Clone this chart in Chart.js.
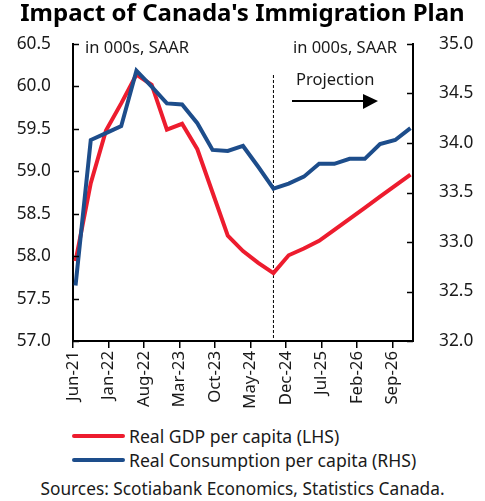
<!DOCTYPE html>
<html>
<head>
<meta charset="utf-8">
<script src="https://cdn.jsdelivr.net/npm/chart.js@4"></script>
<style>
body{margin:0;background:#fff;font-family:"Noto Sans",sans-serif;color:#1a1a1a;}
#page{position:relative;width:485px;height:501px;overflow:hidden;}
#wrap{position:absolute;left:0;top:0;width:485px;height:420px;}
.item{position:absolute;left:72px;height:20px;font-size:17.6px;line-height:20px;}
.item span{position:absolute;left:0;top:8px;width:53px;height:4px;border-radius:2px;}
.item b{position:absolute;left:57px;top:0;font-weight:normal;white-space:nowrap;}
#src{position:absolute;left:0;width:485px;top:479px;text-align:center;font-size:17.3px;line-height:20px;}
</style>
</head>
<body>
<div id="page">
  <div id="wrap"><canvas id="chart"></canvas></div>
  <div class="item" style="top:426px"><span style="background:#ed1c2e"></span><b>Real GDP per capita (LHS)</b></div>
  <div class="item" style="top:450px"><span style="background:#1d4d8b"></span><b>Real Consumption per capita (RHS)</b></div>
  <div id="src">Sources: Scotiabank Economics, Statistics Canada.</div>
</div>
<script>
// quarterly data, thousands of dollars, SAAR
const quarters = ['Jun-21','Sep-21','Dec-21','Mar-22','Jun-22','Sep-22','Dec-22','Mar-23','Jun-23','Sep-23','Dec-23','Mar-24',
                  'Jun-24','Sep-24','Dec-24','Mar-25','Jun-25','Sep-25','Dec-25','Mar-26','Jun-26','Sep-26','Dec-26'];
const gdpPerCapita = [57.94,58.86,59.48,59.80,60.14,60.02,59.49,59.56,59.26,58.75,58.24,58.06,
                      57.92,57.80,58.01,58.09,58.18,58.31,58.44,58.57,58.70,58.83,58.96];
const consumptionPerCapita = [32.56,34.03,34.10,34.17,34.73,34.57,34.40,34.39,34.20,33.93,33.92,33.97,
                              33.76,33.54,33.59,33.66,33.79,33.79,33.84,33.84,33.99,34.03,34.15];
const tickLabels = ['Jun-21','Jan-22','Aug-22','Mar-23','Oct-23','May-24','Dec-24','Jul-25','Feb-26','Sep-26'];
const projectionStart = 'Sep-24';

const MONTHS = ['Jan','Feb','Mar','Apr','May','Jun','Jul','Aug','Sep','Oct','Nov','Dec'];
function absMonth(label){
    const [m, y] = label.split('-');
    return (2000 + Number(y)) * 12 + MONTHS.indexOf(m);
}
const origin = absMonth(tickLabels[0]);
function monthIndex(label){ return absMonth(label) - origin; }
// points sit in the middle of their month
function toPoints(values){ return values.map((v, i) => ({x: monthIndex(quarters[i]) + 0.5, y: v})); }

Chart.defaults.font.family = '"Noto Sans", sans-serif';
Chart.defaults.color = '#1a1a1a';

const extras = {
    id: 'extras',
    beforeDatasetsDraw(chart){
        const {ctx, chartArea, scales} = chart;
        const x = scales.x.getPixelForValue(monthIndex(projectionStart) + 0.5);
        ctx.save();
        ctx.strokeStyle = '#000';
        ctx.lineWidth = 1;
        ctx.setLineDash([3, 2]);
        ctx.beginPath();
        ctx.moveTo(x, chartArea.top + 31);
        ctx.lineTo(x, chartArea.bottom);
        ctx.stroke();
        ctx.restore();
    },
    afterDraw(chart){
        const {ctx, chartArea, scales} = chart;
        ctx.save();
        // inward ticks on both value axes
        ctx.strokeStyle = '#000';
        ctx.lineWidth = 1.5;
        ['y', 'y1'].forEach(id => {
            const s = scales[id];
            const edge = id === 'y' ? chartArea.left : chartArea.right;
            const dir = id === 'y' ? 1 : -1;
            s.ticks.forEach(t => {
                const py = Math.round(s.getPixelForValue(t.value)) + 0.5;
                ctx.beginPath();
                ctx.moveTo(edge, py);
                ctx.lineTo(edge + dir * 6, py);
                ctx.stroke();
            });
        });
        ctx.fillStyle = '#1a1a1a';
        ctx.font = '16.5px "Noto Sans", sans-serif';
        ctx.textBaseline = 'alphabetic';
        ctx.textAlign = 'left';
        ctx.fillText('in 000s, SAAR', chartArea.left + 12, 53);
        ctx.textAlign = 'right';
        ctx.fillText('in 000s, SAAR', chartArea.right - 16, 53);
        ctx.textAlign = 'left';
        ctx.fillText('Projection', 296, 85);
        // arrow
        ctx.strokeStyle = '#000';
        ctx.lineWidth = 2;
        ctx.beginPath();
        ctx.moveTo(292, 101);
        ctx.lineTo(364, 101);
        ctx.stroke();
        ctx.fillStyle = '#000';
        ctx.beginPath();
        ctx.moveTo(363, 94);
        ctx.lineTo(378, 101);
        ctx.lineTo(363, 109);
        ctx.closePath();
        ctx.fill();
        ctx.restore();
    }
};

new Chart(document.getElementById('chart'), {
    type: 'line',
    data: {
        datasets: [{
            label: 'Real GDP per capita (LHS)',
            data: toPoints(gdpPerCapita),
            borderColor: '#ed1c2e',
            backgroundColor: '#ed1c2e',
            borderWidth: 4,
            pointRadius: 0,
            yAxisID: 'y',
            order: 1
        }, {
            label: 'Real Consumption per capita (RHS)',
            data: toPoints(consumptionPerCapita),
            borderColor: '#1d4d8b',
            backgroundColor: '#1d4d8b',
            borderWidth: 4,
            pointRadius: 0,
            yAxisID: 'y1',
            order: 0
        }]
    },
    options: {
        responsive: true,
        maintainAspectRatio: false,
        animation: false,
        layout: {padding: {top: 0, right: 0, bottom: 0, left: 0}},
        plugins: {
            legend: {display: false},
            tooltip: {enabled: false},
            title: {
                display: true,
                text: "Impact of Canada's Immigration Plan",
                color: '#000',
                font: {size: 24, weight: 'bold'},
                padding: {top: 0, bottom: 15.2}
            }
        },
        scales: {
            x: {
                type: 'linear',
                min: 0,
                max: monthIndex(quarters[quarters.length - 1]) + 1,
                afterBuildTicks: s => { s.ticks = tickLabels.map(l => ({value: monthIndex(l)})); },
                afterFit: s => { s.height = 79; },
                grid: {drawOnChartArea: false, drawTicks: true, tickLength: 7, color: '#000', lineWidth: 1.5},
                border: {color: '#000', width: 2},
                ticks: {
                    minRotation: 90, maxRotation: 90, padding: 3,
                    font: {size: 16.8},
                    callback: v => tickLabels.find(l => monthIndex(l) === v) || ''
                }
            },
            y: {
                position: 'left',
                min: 57, max: 60.5,
                afterFit: s => { s.width = 73; },
                grid: {display: false},
                border: {color: '#000', width: 2},
                ticks: {stepSize: 0.5, padding: 14, font: {size: 17.3}, callback: v => v.toFixed(1)}
            },
            y1: {
                position: 'right',
                min: 32, max: 35,
                afterFit: s => { s.width = 72; },
                grid: {display: false},
                border: {color: '#000', width: 2},
                ticks: {stepSize: 0.5, padding: 18, font: {size: 17.3}, callback: v => v.toFixed(1)}
            }
        }
    },
    plugins: [extras]
});
</script>
</body>
</html>
